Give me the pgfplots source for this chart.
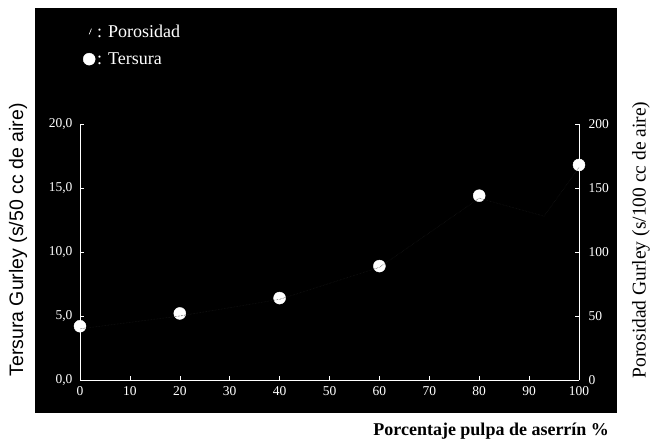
\documentclass[border=0pt]{standalone}
\usepackage{pgfplots}
\pgfplotsset{compat=1.18}
\usepackage{fontspec}
\setmainfont{Liberation Serif}
\newfontfamily\arial{Liberation Sans}

\pgfplotstableread{
x y
0 4.2
20 5.2
40 6.4
60 8.9
80 14.4
100 16.8
}\tersura

\pgfplotstableread{
x y
0 40
20 50
40 63
60 88
80 142
93 128
100 166
}\porosidad

\begin{document}
\begin{tikzpicture}[x=1pt,y=1pt]
\useasboundingbox (0,0) rectangle (658,443);
\fill[black] (35,30) rectangle (617,435);
\begin{axis}[
  at={(80pt,63pt)}, anchor=south west, scale only axis,
  width=499pt, height=256pt,
  xmin=0, xmax=100, ymin=0, ymax=20,
  axis x line*=bottom, axis y line*=left,
  axis line style={white, line width=0.8pt, -},
  xtick={0,10,...,100}, ytick={0,5,...,20},
  tick style={white, line width=0.6pt}, tick align=inside,
  major tick length=4pt,
  /pgf/number format/assume math mode=true,
  ticklabel style={text=white, font=\fontsize{13.5}{15}\selectfont},
  yticklabel style={xshift=-4pt, /pgf/number format/.cd, fixed, fixed zerofill, precision=1, use comma},
  xticklabel style={yshift=-3pt, /pgf/number format/.cd, fixed, precision=0},
  xlabel={Porcentaje pulpa de aserrín \%},
  xlabel style={at={(axis description cs:0.824,-0.2)}, anchor=center,
    font=\bfseries\fontsize{18}{20}\selectfont, text=black},
  ylabel={Tersura Gurley (s/50 cc de aire)},
  ylabel style={at={(axis description cs:-0.124,0.547)}, anchor=center,
    font=\arial\fontsize{19.5}{21}\selectfont, text=black},
  legend style={at={(axis description cs:0.0,1.405)}, anchor=north west,
    draw=none, fill=none, text=white, font=\fontsize{18}{20}\selectfont,
    row sep=10pt},
  legend cell align=left,
  clip=false,
]
\addlegendimage{legend image code/.code={\draw[white,line width=0.6pt] (0.3cm,-0.1cm) -- (0.38cm,0.1cm);}}
\addlegendentry{: Porosidad}
\addplot[only marks, mark=*, white, mark size=6pt] table[x=x,y=y] {\tersura};
\addlegendentry{: Tersura}
\end{axis}
\begin{axis}[
  at={(80pt,63pt)}, anchor=south west, scale only axis,
  width=499pt, height=256pt,
  xmin=0, xmax=100, ymin=0, ymax=200,
  axis x line=none, axis y line*=right,
  axis line style={white, line width=0.8pt, -},
  ytick={0,50,...,200},
  tick style={white, line width=0.6pt}, tick align=inside,
  major tick length=4pt,
  /pgf/number format/assume math mode=true,
  ticklabel style={text=white, font=\fontsize{13.5}{15}\selectfont},
  yticklabel style={xshift=6pt},
  ylabel={Porosidad Gurley (s/100 cc de aire)},
  ylabel style={at={(axis description cs:1.124,0.547)}, anchor=center, rotate=0,
    font=\fontsize{19.5}{21}\selectfont, text=black},
]
\addplot[black!90!white, densely dotted, line width=0.5pt] table[x=x,y=y] {\porosidad};
\end{axis}
\end{tikzpicture}
\end{document}
